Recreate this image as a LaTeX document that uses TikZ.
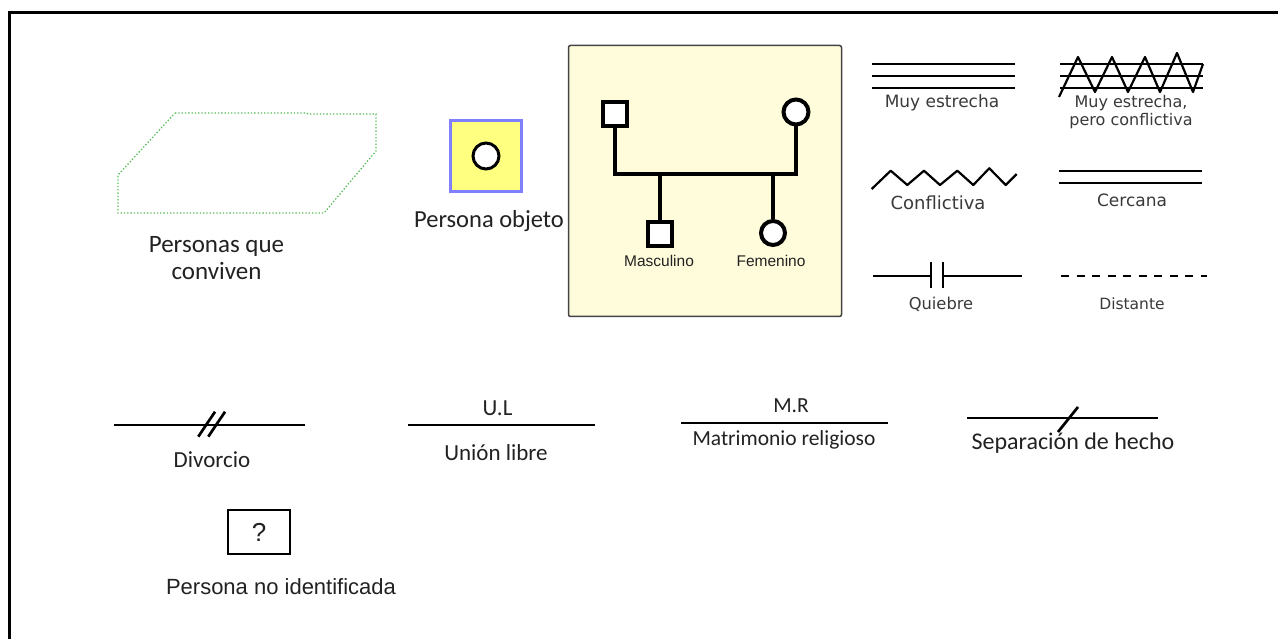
\documentclass[tikz,border=0pt]{standalone}
\usepackage{fontspec}
\setmainfont{Carlito}
\newfontfamily\arialf{Liberation Sans}
\newfontfamily\handf{DejaVu Sans}
\definecolor{greenc}{HTML}{55BB55}
\definecolor{objfill}{HTML}{FFFF80}
\definecolor{objdraw}{HTML}{8080FF}
\definecolor{genofill}{HTML}{FFFCDC}
\definecolor{genodraw}{HTML}{444444}
\definecolor{txt}{HTML}{222222}
\definecolor{hand}{HTML}{3A3A3A}
\begin{document}
\begin{tikzpicture}[x=1pt,y=-1pt,
  lbl/.style={font=\fontsize{23}{28}\selectfont, text=txt, inner sep=0pt, align=center},
  hlbl/.style={font=\handf\fontsize{17}{18}\selectfont, text=hand, inner sep=0pt, align=center},
  glbl/.style={font=\arialf\fontsize{15.5}{17}\selectfont, text=txt, inner sep=0pt},
  gsym/.style={draw=black, line width=4pt, fill=white, inner sep=0pt},
  gline/.style={line width=4pt, line join=miter},
  rel/.style={line width=2.2pt},
  bline/.style={line width=2.7pt},
]
\useasboundingbox (0,0) rectangle (1278,639);
\fill[white] (0,0) rectangle (1278,639);
% frame
\draw[line width=3pt] (9.5,639) -- (9.5,12.5) -- (1278,12.5);

% personas que conviven
\draw[greenc, dotted, line width=1.3pt] (175,113) -- (306.7,113) -- (308,114) -- (376,114) -- (376,151) -- (324,213) -- (118,213) -- (118,175) -- cycle;
\node[lbl, font=\fontsize{25}{27}\selectfont] (conv) at (216.5,258) {Personas que\\conviven};

% persona objeto
\node[draw=objdraw, fill=objfill, line width=3pt, minimum size=71pt, inner sep=0pt] (obj) at (486,156) {};
\node[circle, draw=black, line width=3pt, fill=white, minimum size=26pt, inner sep=0pt] (objc) at (obj.center) {};
\node[lbl, font=\fontsize{24.5}{28}\selectfont] (objl) at (489,221) {Persona objeto};

% genogram box
\node[draw=genodraw, fill=genofill, line width=1.5pt, rounded corners=2pt, minimum width=273pt, minimum height=271pt, inner sep=0pt] (geno) at (705,181) {};
\node[gsym, minimum size=24pt] (fa) at (615,114) {};
\node[gsym, circle, minimum size=25pt] (mo) at (796,112) {};
\node[gsym, minimum size=24pt] (son) at (660,234) {};
\node[gsym, circle, minimum size=24pt] (dau) at (773,233) {};
\coordinate (sib) at (705,174);
\draw[gline] (fa.south) |- (sib) -| (mo.south);
\draw[gline] (son.north) -- (son.north |- sib);
\draw[gline] (dau.north) -- (dau.north |- sib);
\node[glbl] (mascl) at (659,261) {Masculino};
\node[glbl] (feml) at (771,261) {Femenino};

% muy estrecha
\draw[rel] (872,64) -- (1015,64);
\draw[rel] (872,75.7) -- (1015,75.7);
\draw[rel] (872,87.7) -- (1015,87.7);
\node[hlbl] (mel) at (942,103) {Muy estrecha};

% muy estrecha pero conflictiva
\draw[rel] (1060,64) -- (1203,64);
\draw[rel] (1060,75.7) -- (1203,75.7);
\draw[rel] (1060,87.7) -- (1203,87.7);
\draw[rel, line join=round] (1059,97) -- (1078,57) -- (1095,92) -- (1112,57) -- (1128,92) -- (1145,57) -- (1160,92) -- (1177,53) -- (1193,92) -- (1203,64);
\node[hlbl, font=\handf\fontsize{16}{18.5}\selectfont] (mecl) at (1131,112) {Muy estrecha,\\pero conflictiva};

% conflictiva
\draw[rel, line join=round] (871.7,189) -- (890.7,170.7) -- (907.3,185) -- (924,170.7) -- (940,185) -- (957.3,170.7) -- (973.3,185) -- (989.3,168.3) -- (1005.7,185) -- (1016.7,174);
\node[hlbl, font=\handf\fontsize{18}{18}\selectfont] (confl) at (938,203) {Conflictiva};

% cercana
\draw[rel] (1059,170.7) -- (1202,170.7);
\draw[rel] (1059,182.7) -- (1202,182.7);
\node[hlbl] (cercl) at (1132,200.7) {Cercana};

% quiebre
\draw[rel] (873,276) -- (931,276);
\draw[rel] (931,261.7) -- (931,288.3);
\draw[rel] (942.7,261.7) -- (942.7,288.3);
\draw[rel] (942.7,276) -- (1021.7,276);
\node[hlbl, font=\handf\fontsize{16.3}{18}\selectfont] (quiel) at (941,304) {Quiebre};

% distante
\draw[rel, dash pattern=on 8pt off 7.5pt] (1061,275.7) -- (1207,275.7);
\node[hlbl, font=\handf\fontsize{15.5}{18}\selectfont] (distl) at (1132,304) {Distante};

% divorcio
\draw[bline] (114,425) -- (305,425);
\draw[bline] (198.3,436.7) -- (215,411.7);
\draw[bline] (208.3,436.7) -- (225,411.7);
\node[lbl] (divl) at (212,460) {Divorcio};

% union libre
\draw[bline] (408,425) -- (595,425);
\node[lbl] (ul) at (497.5,408) {U.L};
\node[lbl] (ull) at (496,453) {Unión libre};

% matrimonio religioso
\draw[bline] (681,423) -- (888,423);
\node[lbl, font=\fontsize{21.5}{26}\selectfont] (mr) at (791,406) {M.R};
\node[lbl, font=\fontsize{21.5}{26}\selectfont] (mrl) at (784,440) {Matrimonio religioso};

% separacion de hecho
\draw[bline] (967,418) -- (1158,418);
\draw[bline] (1058,432) -- (1078,407);
\node[lbl, font=\fontsize{24}{28}\selectfont] (sepl) at (1073,443) {Separación de hecho};

% persona no identificada
\node[draw=black, line width=2.5pt, minimum width=62pt, minimum height=44pt, inner sep=0pt] (unk) at (259,532) {};
\node[font=\arialf\fontsize{26}{30}\selectfont, inner sep=0pt, text=txt] (unkq) at (unk.center) {?};
\node[font=\arialf\fontsize{22}{26}\selectfont, inner sep=0pt, text=txt] (unkl) at (281,587) {Persona no identificada};
\end{tikzpicture}
\end{document}
